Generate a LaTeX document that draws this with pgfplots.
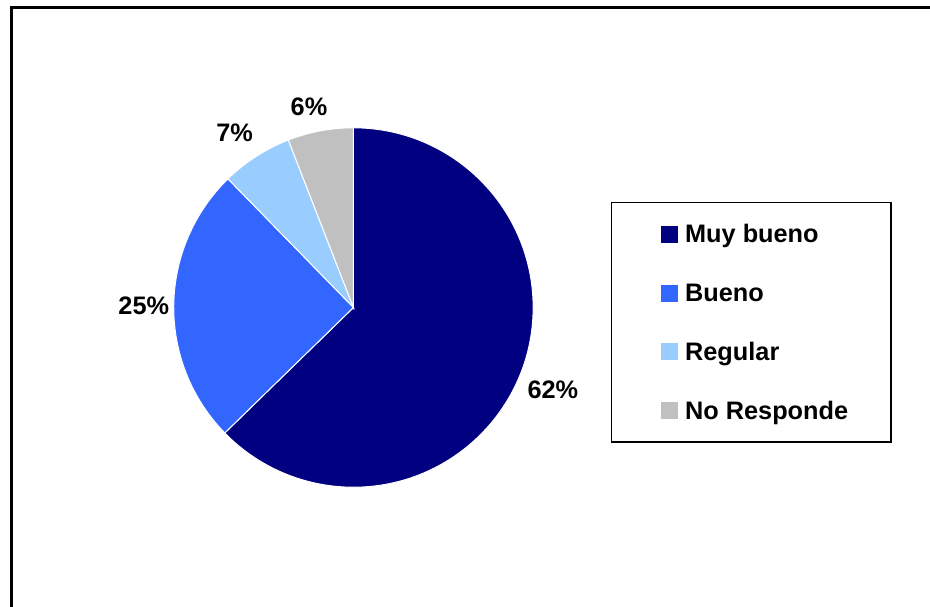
\documentclass[border=0pt]{standalone}
\usepackage{pgfplots}
\pgfplotsset{compat=1.18}
\usepackage{fontspec}
\setmainfont{Liberation Sans}
\definecolor{cA}{HTML}{000080}
\definecolor{cB}{HTML}{3366FF}
\definecolor{cC}{HTML}{99CCFF}
\definecolor{cD}{HTML}{C0C0C0}
% slice sizes (percent, as drawn)
\def\vA{62.7}\def\vB{25.0}\def\vC{6.4}\def\vD{5.9}
\begin{document}
\begin{tikzpicture}
\pgfmathsetmacro{\aA}{90}
\pgfmathsetmacro{\aB}{\aA-\vA*3.6}
\pgfmathsetmacro{\aC}{\aB-\vB*3.6}
\pgfmathsetmacro{\aD}{\aC-\vC*3.6}
\pgfmathsetmacro{\aE}{\aD-\vD*3.6}
\begin{axis}[
  scale only axis, width=697.5pt, height=454.5pt,
  xmin=0, xmax=930, ymin=0, ymax=606, y dir=reverse,
  hide axis, clip=false,
  font=\fontsize{19}{22}\selectfont\bfseries,
]
\addplot[draw=none, forget plot] coordinates {(0,0) (930,606)};
% frame
\draw[line width=2.25pt, line cap=rect] (axis cs:11.5,606) -- (axis cs:11.5,7.5) -- (axis cs:930,7.5);
% pie
\fill[cA, draw=white, line width=0.75pt] (axis cs:354,308) -- ++(\aA:135pt) arc[start angle=\aA, end angle=\aB, radius=135pt] -- cycle;
\fill[cB, draw=white, line width=0.75pt] (axis cs:354,308) -- ++(\aB:135pt) arc[start angle=\aB, end angle=\aC, radius=135pt] -- cycle;
\fill[cC, draw=white, line width=0.75pt] (axis cs:354,308) -- ++(\aC:135pt) arc[start angle=\aC, end angle=\aD, radius=135pt] -- cycle;
\fill[cD, draw=white, line width=0.75pt] (axis cs:354,308) -- ++(\aD:135pt) arc[start angle=\aD, end angle=\aE, radius=135pt] -- cycle;
% percent labels
\node[anchor=base, inner sep=0pt] at (axis cs:553.7,399) {62\%};
\node[anchor=base, inner sep=0pt] at (axis cs:144,315) {25\%};
\node[anchor=base, inner sep=0pt] at (axis cs:235,141.7) {7\%};
\node[anchor=base, inner sep=0pt] at (axis cs:309.5,115.7) {6\%};
% legend
\draw[line width=1.1pt] (axis cs:612.5,203) rectangle (axis cs:892.5,442.5);
\fill[cA] (axis cs:662,226) rectangle (axis cs:679,243);
\fill[cB] (axis cs:662,285) rectangle (axis cs:679,302);
\fill[cC] (axis cs:662,344) rectangle (axis cs:679,361);
\fill[cD] (axis cs:662,403) rectangle (axis cs:679,420);
\node[anchor=base west, inner sep=0pt] at (axis cs:686,243) {Muy bueno};
\node[anchor=base west, inner sep=0pt] at (axis cs:686,302) {Bueno};
\node[anchor=base west, inner sep=0pt] at (axis cs:686,361) {Regular};
\node[anchor=base west, inner sep=0pt] at (axis cs:686,420) {No Responde};
\end{axis}
\end{tikzpicture}
\end{document}
